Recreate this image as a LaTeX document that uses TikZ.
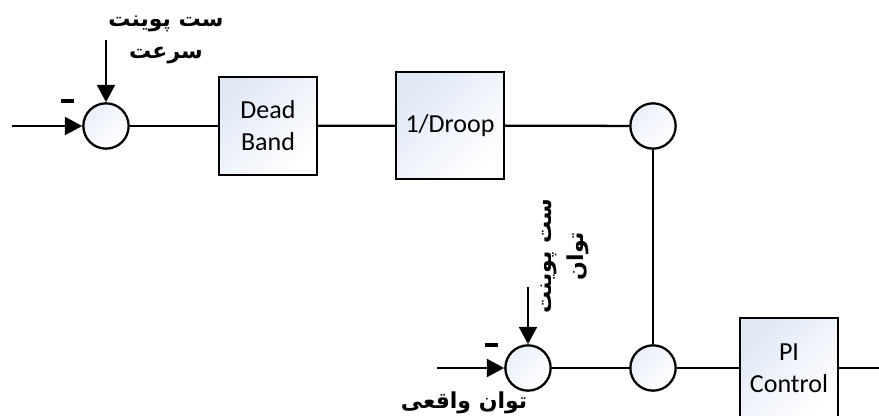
\documentclass[tikz,border=0pt]{standalone}
\usepackage{fontspec}
\newfontfamily\fa[Script=Arabic]{DejaVu Sans}
\newfontfamily\lat{Carlito}
\TeXXeTstate=1
\usetikzlibrary{arrows.meta}
\definecolor{shadeblue}{HTML}{E0E8F6}
\begin{document}
\begin{tikzpicture}[x=0.75pt,y=-0.75pt,
  line width=1.7pt,
  sumnode/.style={circle,draw,minimum size=34pt,inner sep=0pt,top color=shadeblue!70,bottom color=white,shading angle=45},
  block/.style={rectangle,draw,inner sep=0pt,align=center,font=\lat\fontsize{19.5}{24}\selectfont,top color=shadeblue,bottom color=white,shading angle=45},
  flow/.style={-{Triangle[length=13pt,width=13.5pt]}},
  fatext/.style={align=center,font=\fa\bfseries\fontsize{16.5}{24}\selectfont},
  minussign/.style={inner sep=0pt}
]
\useasboundingbox (0,0) rectangle (879,416);
\clip (0,0) rectangle (879,416);
% inputs
\coordinate (inA) at (12,126);
\coordinate (spA) at (106,40);
\coordinate (inB) at (437,368);
\coordinate (spB) at (528,287);
\coordinate (out) at (879,368);
% nodes
\node[sumnode] (c1) at (106,126) {};
\node[block,minimum width=73.5pt,minimum height=73.5pt] (db) at (268,126) {Dead\\Band};
\node[block,minimum width=81pt,minimum height=80.25pt] (dr) at (450,125.5) {1/Droop};
\node[sumnode] (c3) at (653,126) {};
\node[sumnode] (c2) at (528,368) {};
\node[sumnode] (c4) at (653,368) {};
\node[block,minimum width=73.5pt,minimum height=75pt] (pi) at (789,368) {PI\\Control};
% labels
\node[fatext] (tA) at (166,40) {\beginR ست پوینت\endR\\\beginR سرعت\endR};
\node[fatext,rotate=90] (tB) at (565,256) {\beginR ست پوینت\endR\\\beginR توان\endR};
\node[fatext] (tC) at (464,403) {\beginR توان واقعی\endR};
\node[minussign] (mA) at (67,101) {\rule{9.75pt}{3pt}};
\node[minussign] (mB) at (491,345) {\rule{9.75pt}{3pt}};
% connectors
\draw[flow] (inA) -- (c1);
\draw[flow] (spA) -- (c1);
\draw (c1) -- (db);
\draw (db) -- (dr);
\draw (dr) -- (c3);
\draw (c3) -- (c4);
\draw[flow] (inB) -- (c2);
\draw[flow] (spB) -- (c2);
\draw (c2) -- (c4);
\draw (c4) -- (pi);
\draw (pi) -- (out);
\end{tikzpicture}
\end{document}
